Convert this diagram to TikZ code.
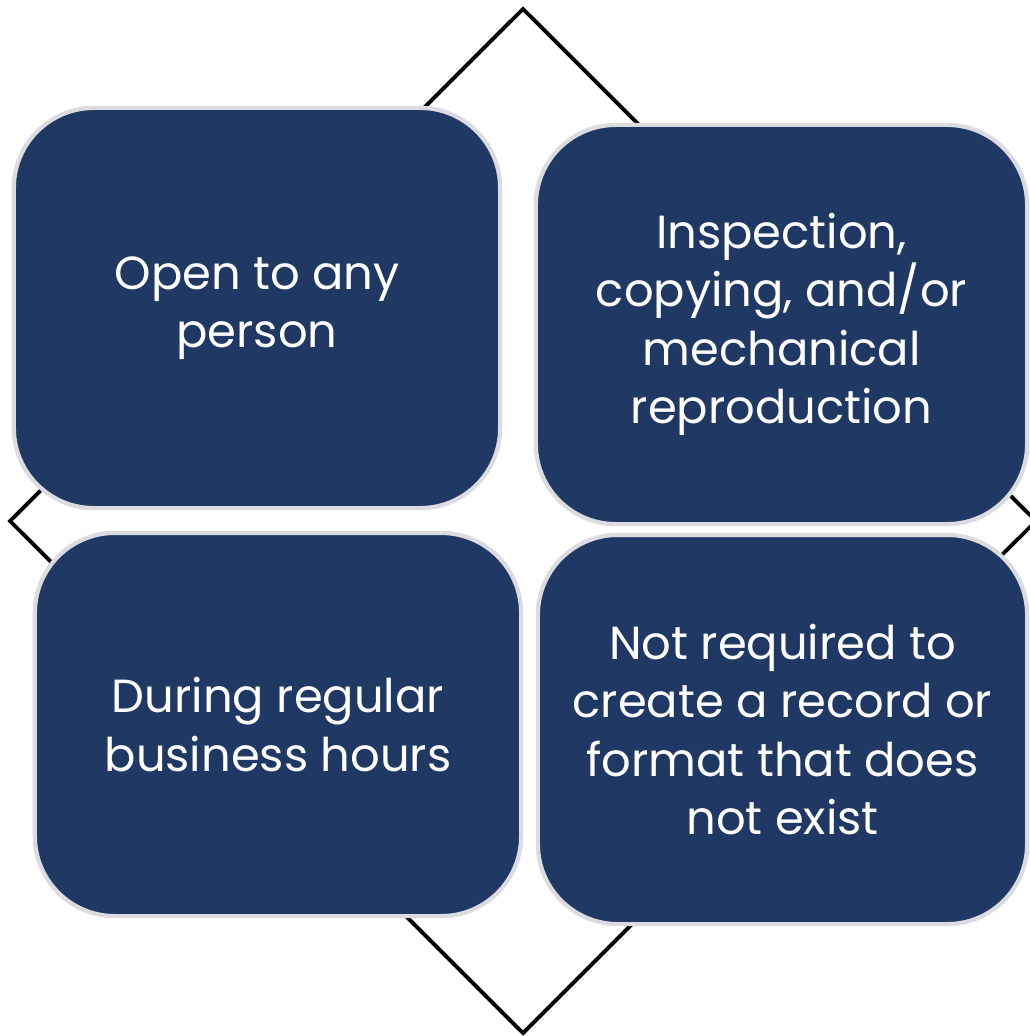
\documentclass[tikz,border=0pt]{standalone}
\usepackage{fontspec}
\setmainfont{Poppins}
\usetikzlibrary{positioning}

\definecolor{navy}{HTML}{203864}
\definecolor{rim}{HTML}{DCDCE0}

\begin{document}
\begin{tikzpicture}[x=0.01cm, y=-0.01cm]
        \tikzstyle{box} = [rectangle, rounded corners=0.8cm, draw=rim, line width=1.2pt, fill=navy, text=white, text centered, align=center, font=\fontsize{13.2pt}{16.6pt}\selectfont]
        \tikzstyle{edge} = [black, line width=1.1pt]

        \useasboundingbox (0,0) rectangle (1029,1036);

        % diamond behind the boxes
        \coordinate (top) at (523,9);
        \coordinate (left) at (10,521);
        \coordinate (bottom) at (523,1033);
        \coordinate (right) at (1036,521);
        \draw [edge] (top) -- (right) -- (bottom) -- (left) -- cycle;

        \node (open) [box, minimum width=4.86cm, minimum height=4.00cm] at (257,308) {Open to any\\person};
        \node (inspection) [box, minimum width=4.91cm, minimum height=3.99cm] at (781.5,324.5) {Inspection,\\copying, and/or\\mechanical\\reproduction};
        \node (hours) [box, minimum width=4.86cm, minimum height=3.83cm] at (278,724.5) {During regular\\business hours};
        \node (record) [box, minimum width=4.89cm, minimum height=3.89cm] at (782.5,729.5) {Not required to\\create a record or\\format that does\\not exist};
    \end{tikzpicture}
\end{document}
